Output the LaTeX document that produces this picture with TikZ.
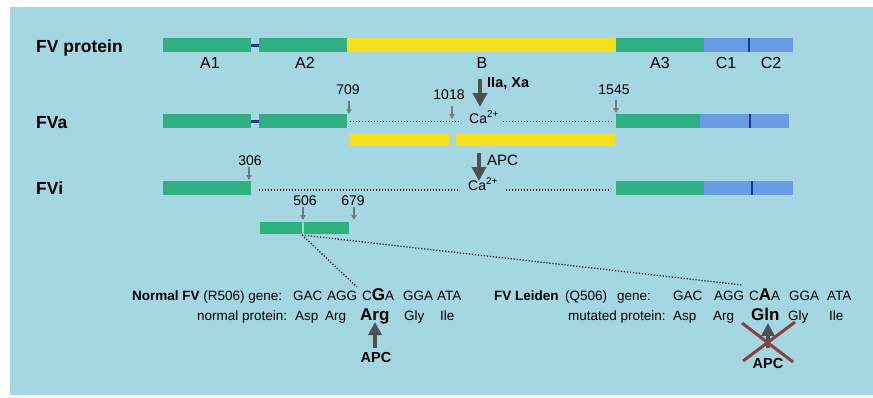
\documentclass[tikz,border=0pt]{standalone}
\usepackage{fontspec}
\setmainfont{Liberation Sans}
\usetikzlibrary{arrows.meta}
\definecolor{bg}{RGB}{164,215,226}
\definecolor{grn}{RGB}{46,176,128}
\definecolor{ylw}{RGB}{246,221,30}
\definecolor{lblu}{RGB}{108,155,230}
\definecolor{dblu}{RGB}{25,55,150}
\definecolor{arr}{RGB}{80,80,80}
\definecolor{sarr}{RGB}{120,120,120}
\definecolor{xred}{RGB}{140,65,65}
\definecolor{dotc}{RGB}{30,30,30}
\begin{document}
\begin{tikzpicture}[x=1pt,y=-1pt,
  seg/.style={draw=none,inner sep=0pt,outer sep=0pt,minimum height=14pt,anchor=north west},
  divd/.style={draw=none,fill=dblu,inner sep=0pt,outer sep=0pt,minimum width=2.5pt,anchor=north},
  lnk/.style={draw=dblu,line width=3pt},
  dotln/.style={draw=dotc,line width=1.3pt,dash pattern=on 1.2pt off 1.8pt},
  rowlab/.style={anchor=base west,inner sep=0pt,font=\fontsize{17.5}{20}\selectfont\bfseries},
  domlab/.style={anchor=base,inner sep=0pt,font=\fontsize{16}{19}\selectfont},
  numlab/.style={anchor=base,inner sep=0pt,font=\fontsize{14}{17}\selectfont},
  smallarr/.style={draw=sarr,line width=1.2pt,-{Triangle[length=5pt,width=5pt]}},
  bigarr/.style={draw=arr,line width=4.5pt,-{Triangle[length=14pt,width=14pt]}},
  wd/.style={anchor=base west,inner sep=0pt,font=\fontsize{13.5}{16}\selectfont},
  bigwd/.style={anchor=base west,inner sep=0pt,font=\fontsize{17}{20}\selectfont\bfseries},
  apclab/.style={anchor=base,inner sep=0pt,font=\fontsize{14.5}{17}\selectfont\bfseries},
  xline/.style={draw=xred,line width=3pt}
]
\useasboundingbox (0,0) rectangle (873,397);
\fill[bg] (10,7) rectangle (873,395);

% ---- FV protein row
\node[rowlab] (lfv) at (36,52) {FV protein};
\node[seg,fill=grn,minimum width=88pt] (pA1) at (163,38) {};
\node[seg,fill=grn,minimum width=88pt] (pA2) at (259,38) {};
\node[seg,fill=ylw,minimum width=269pt] (pB) at (347,38) {};
\node[seg,fill=grn,minimum width=88pt] (pA3) at (616,38) {};
\node[seg,fill=lblu,minimum width=89pt] (pC) at (704,38) {};
\node[divd,minimum height=14pt] (pdiv) at (749,38) {};
\draw[lnk] (pA1.east) -- (pA2.west);
\node[domlab] (tA1) at (210,68) {A1};
\node[domlab] (tA2) at (305,68) {A2};
\node[domlab] (tB) at (482,68) {B};
\node[domlab] (tA3) at (660,68) {A3};
\node[domlab] (tC1) at (726,68) {C1};
\node[domlab] (tC2) at (771,68) {C2};

% ---- thrombin arrow
\coordinate (ia1) at (480,79);
\coordinate (ia2) at (480,107);
\draw[bigarr] (ia1) -- (ia2);
\node[anchor=base west,inner sep=0pt,font=\fontsize{14.5}{17}\selectfont\bfseries] (tIIa) at (487,87) {IIa, Xa};

% ---- FVa row
\node[rowlab] (lfva) at (36,128) {FVa};
\node[seg,fill=grn,minimum width=88pt] (aA1) at (163,114) {};
\node[seg,fill=grn,minimum width=88pt] (aA2) at (259,114) {};
\draw[lnk] (aA1.east) -- (aA2.west);
\node[seg,fill=grn,minimum width=84pt] (aA3) at (616,114) {};
\node[seg,fill=lblu,minimum width=89pt] (aC) at (700,114) {};
\node[divd,minimum height=14pt] (adiv) at (750,114) {};
\node[seg,fill=ylw,minimum width=99pt,minimum height=13pt] (aB1) at (350,133) {};
\node[seg,fill=ylw,minimum width=159pt,minimum height=13pt] (aB2) at (456,133) {};
\node[anchor=base west,inner sep=0pt,font=\fontsize{14}{17}\selectfont] (aCa) at (469,123) {Ca\textsuperscript{2+}};
\coordinate (ad1) at (350,121.5);
\coordinate (ad2) at (460,121.5);
\coordinate (ad3) at (503,121.5);
\coordinate (ad4) at (613,121.5);
\draw[dotln] (ad1) -- (ad2);
\draw[dotln] (ad3) -- (ad4);
\node[numlab] (n709) at (348,94) {709};
\node[numlab] (n1018) at (449,99) {1018};
\node[numlab] (n1545) at (614,94) {1545};
\coordinate (s709a) at (349,101); \coordinate (s709b) at (349,114);
\coordinate (s1018a) at (452,106); \coordinate (s1018b) at (452,119);
\coordinate (s1545a) at (616,100); \coordinate (s1545b) at (616,113);
\draw[smallarr] (s709a) -- (s709b);
\draw[smallarr] (s1018a) -- (s1018b);
\draw[smallarr] (s1545a) -- (s1545b);

% ---- APC arrow
\coordinate (apc1) at (479,153);
\coordinate (apc2) at (479,181);
\draw[bigarr] (apc1) -- (apc2);
\node[anchor=base west,inner sep=0pt,font=\fontsize{15}{18}\selectfont] (tAPC) at (487,165) {APC};

% ---- FVi row
\node[rowlab] (lfvi) at (36,194) {FVi};
\node[seg,fill=grn,minimum width=88pt] (iA1) at (163,181) {};
\node[seg,fill=grn,minimum width=88pt] (iA3) at (616,181) {};
\node[seg,fill=lblu,minimum width=89pt] (iC) at (704,181) {};
\node[divd,minimum height=14pt] (idiv) at (752,181) {};
\node[anchor=base west,inner sep=0pt,font=\fontsize{14}{17}\selectfont] (iCa) at (468,190) {Ca\textsuperscript{2+}};
\coordinate (id1) at (259,190);
\coordinate (id2) at (460,190);
\coordinate (id3) at (506,190);
\coordinate (id4) at (611,190);
\draw[dotln] (id1) -- (id2);
\draw[dotln] (id3) -- (id4);
\node[numlab] (n306) at (250,165) {306};
\coordinate (s306a) at (249,167); \coordinate (s306b) at (249,180);
\draw[smallarr] (s306a) -- (s306b);

% ---- fragment
\node[seg,fill=grn,minimum width=89pt,minimum height=12pt] (frag) at (260,222) {};
\node[draw=none,fill=white!55!grn,inner sep=0pt,minimum width=1.3pt,minimum height=12pt,anchor=north] (fgap) at (303,222) {};
\node[numlab] (n506) at (305,205) {506};
\node[numlab] (n679) at (353,205) {679};
\coordinate (s506a) at (303,207); \coordinate (s506b) at (303,220);
\coordinate (s679a) at (354,207); \coordinate (s679b) at (354,220);
\draw[smallarr] (s506a) -- (s506b);
\draw[smallarr] (s679a) -- (s679b);
\coordinate (dg0) at (302,235);
\coordinate (dg1) at (357,287);
\coordinate (dg2) at (742,285);
\draw[dotln] (dg0) -- (dg1);
\draw[dotln] (dg0) -- (dg2);

% ---- Normal FV
\node[wd] (nfv) at (132,300) {\textbf{Normal FV} (R506) gene:};
\node[wd] (ng1) at (293,300) {GAC};
\node[wd] (ng2) at (327,300) {AGG};
\node[wd] (ng3) at (362,300) {C{\fontsize{17}{20}\selectfont\bfseries G}A};
\node[wd] (ng4) at (403,300) {GGA};
\node[wd] (ng5) at (437,300) {ATA};
\node[wd] (npl) at (197,320) {normal protein:};
\node[wd] (np1) at (295,320) {Asp};
\node[wd] (np2) at (325,320) {Arg};
\node[bigwd] (np3) at (360,320) {Arg};
\node[wd] (np4) at (404,320) {Gly};
\node[wd] (np5) at (440,320) {Ile};
\coordinate (na1) at (375,348);
\coordinate (na2) at (375,322);
\draw[bigarr,line width=4pt,-{Triangle[length=13pt,width=13pt]}] (na1) -- (na2);
\node[apclab] (napc) at (376,362) {APC};

% ---- FV Leiden
\node[wd] (lfv1) at (494,300) {\textbf{FV Leiden}};
\node[wd] (lfv2) at (565,300) {(Q506)};
\node[wd] (lfv3) at (617,300) {gene:};
\node[wd] (lg1) at (673,300) {GAC};
\node[wd] (lg2) at (714,300) {AGG};
\node[wd] (lg3) at (749,300) {C{\fontsize{17}{20}\selectfont\bfseries A}A};
\node[wd] (lg4) at (789,300) {GGA};
\node[wd] (lg5) at (827,300) {ATA};
\node[wd] (lpl) at (568,320) {mutated protein:};
\node[wd] (lp1) at (673,320) {Asp};
\node[wd] (lp2) at (713,320) {Arg};
\node[bigwd] (lp3) at (751,320) {Gln};
\node[wd] (lp4) at (788,320) {Gly};
\node[wd] (lp5) at (829,320) {Ile};
\coordinate (la1) at (768,348);
\coordinate (la2) at (768,323);
\draw[bigarr,line width=4pt,-{Triangle[length=13pt,width=13pt]}] (la1) -- (la2);
\node[apclab] (lapc) at (768,368) {APC};
\coordinate (x1a) at (742,323); \coordinate (x1b) at (793,362);
\coordinate (x2a) at (795,322); \coordinate (x2b) at (743,361);
\draw[xline] (x1a) -- (x1b);
\draw[xline] (x2a) -- (x2b);
\end{tikzpicture}
\end{document}
